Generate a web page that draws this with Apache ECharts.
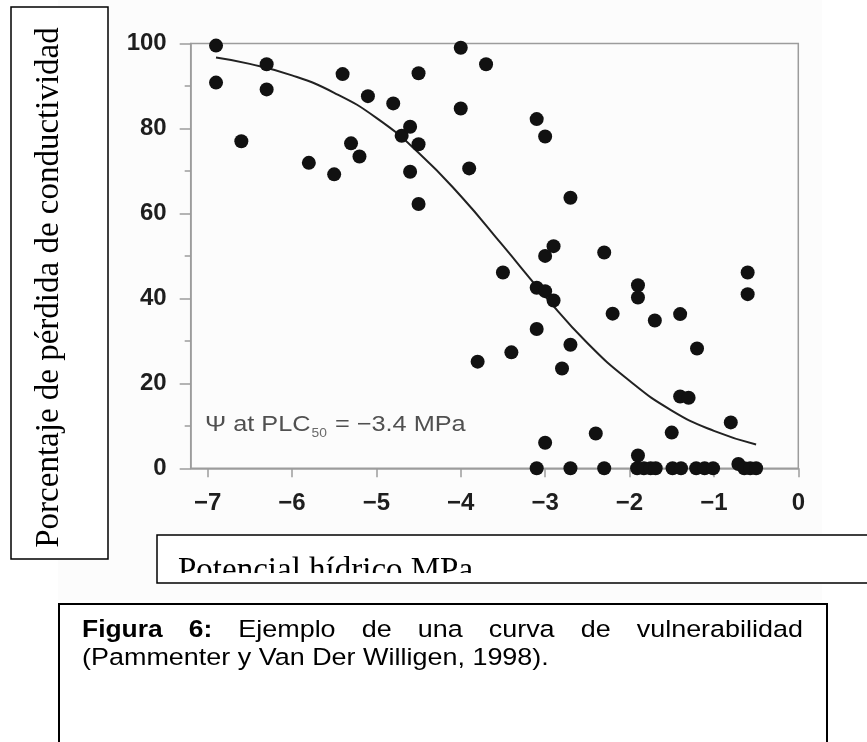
<!DOCTYPE html>
<html>
<head>
<meta charset="utf-8">
<script src="https://cdn.jsdelivr.net/npm/echarts@6/dist/echarts.min.js"></script>
<style>
  html, body { margin: 0; padding: 0; background: #fff; }
  #chart { width: 867px; height: 742px; }
</style>
</head>
<body>
<div id="chart"></div>
<script>
// Vulnerability curve: percentage loss of conductivity vs. water potential (MPa)
const psi = [
  -6.9, -6.9, -6.6, -6.3, -6.3, -5.8, -5.5, -5.4, -5.3, -5.2, -5.1,
  -4.8, -4.7, -4.6, -4.5, -4.6, -4.5, -4.5, -4.0, -4.0, -3.9, -3.7,
  -3.1, -3.0, -2.7, -2.9, -3.0, -2.3, -3.5, -3.1, -3.0, -2.9,
  -1.9, -1.9, -2.2, -1.7, -1.4, -0.6, -0.6, -3.1, -2.7, -3.4, -3.8,
  -2.8, -1.2, -1.4, -1.3, -0.8, -2.4, -1.5, -3.0, -1.9,
  -3.1, -2.7, -2.3, -1.91, -1.83, -1.75, -1.69, -1.49, -1.39,
  -1.21, -1.11, -1.01, -0.71, -0.64, -0.57, -0.5
];
const plc = [
  99.5, 90.8, 77.0, 95.1, 89.2, 71.9, 69.2, 92.8, 76.5, 73.4, 87.6,
  85.9, 78.3, 80.4, 76.3, 69.8, 93.0, 62.2, 99.0, 84.7, 70.6, 95.1,
  82.2, 78.1, 63.7, 52.3, 50.0, 50.8, 46.1, 42.5, 41.7, 39.5,
  43.1, 40.2, 36.4, 34.8, 36.3, 46.1, 41.0, 32.8, 29.1, 27.3, 25.1,
  23.5, 28.2, 16.9, 16.6, 10.8, 8.2, 8.4, 6.0, 3.0,
  0, 0, 0, 0, 0, 0, 0, 0, 0,
  0, 0, 0, 1.0, 0, 0, 0
];

// Fitted sigmoid curve, read at regular potentials
const curvePsi = [-6.9, -6.5, -6.0, -5.5, -5.0, -4.5, -4.0, -3.5, -3.0, -2.5, -2.0, -1.5, -1.0, -0.5];
const curvePlc = [96.7, 95.2, 92.5, 88.4, 82.5, 74.3, 64.1, 52.4, 40.5, 29.5, 20.6, 13.6, 8.8, 5.6];

const xTicks = [-7, -6, -5, -4, -3, -2, -1, 0];
const yTicks = [0, 20, 40, 60, 80, 100];

const yTitle = 'Porcentaje de pérdida de conductividad';
const xTitle = 'Potencial hídrico MPa';
const noteMain = 'Ψ at PLC';
const noteSub = '50';
const noteRest = ' = −3.4 MPa';
const captionBold = ['Figura', '6:'];
const captionWords = ['Ejemplo', 'de', 'una', 'curva', 'de', 'vulnerabilidad'];
const captionLine2 = '(Pammenter y Van Der Willigen, 1998).';

// text measuring helper
const mctx = document.createElement('canvas').getContext('2d');
function textWidth(text, font) { mctx.font = font; return mctx.measureText(text).width; }

const FONT_CAP_BOLD = 'bold 24px "Liberation Sans"';
const FONT_CAP = '24.5px "Liberation Sans"';
const CAP_SX = 1.1;
const FONT_NOTE = '22px "Liberation Sans"';
const FONT_NOTE_SUB = '12px "Liberation Sans"';
const NOTE_SX = 1.15;
const FONT_SERIF = '33px "Liberation Serif"';

function txt(x, y, text, font, fill, align, z, extra) {
  return Object.assign({
    type: 'text', x: x, y: y, z: z || 5,
    style: {
      text: text, font: font, fill: fill,
      align: align || 'left', verticalAlign: 'middle',
      textAlign: align || 'left', textVerticalAlign: 'middle'
    }
  }, extra || {});
}

// Justified first caption line
const capLeft = 82, capRight = 803;
const capTokens = captionBold.map(t => ({ t: t, font: FONT_CAP_BOLD }))
  .concat(captionWords.map(t => ({ t: t, font: FONT_CAP })));
const capWidths = capTokens.map(k => textWidth(k.t, k.font) * CAP_SX);
const capTotal = capWidths.reduce((a, b) => a + b, 0);
const capGap = (capRight - capLeft - capTotal) / (capTokens.length - 1);
const captionElems = [];
let cx = capLeft;
capTokens.forEach((k, i) => {
  captionElems.push(txt(cx, 639 - 0.345 * 24.5, k.t, k.font, '#000', 'left', 6, { scaleX: CAP_SX }));
  cx += capWidths[i] + capGap;
});
captionElems.push(txt(capLeft, 667 - 0.345 * 24.5, captionLine2, FONT_CAP, '#000', 'left', 6, { scaleX: CAP_SX }));

// Annotation with subscript
const noteX = 205, noteBase = 433;
const wMain = textWidth(noteMain, FONT_NOTE) * NOTE_SX;
const wSub = textWidth(noteSub, FONT_NOTE_SUB) * NOTE_SX;
const noteElems = [
  txt(noteX, noteBase - 0.345 * 22, noteMain, FONT_NOTE, '#505050', 'left', 6, { scaleX: NOTE_SX }),
  txt(noteX + wMain + 1, noteBase + 5 - 0.345 * 12, noteSub, FONT_NOTE_SUB, '#6a6a6a', 'left', 6, { scaleX: NOTE_SX }),
  txt(noteX + wMain + wSub + 2, noteBase - 0.345 * 22, noteRest, FONT_NOTE, '#505050', 'left', 6, { scaleX: NOTE_SX })
];

const axisGrey = '#9c9c9c';
const minusFmt = v => (v < 0 ? '−' + Math.abs(v) : String(v));

const chart = echarts.init(document.getElementById('chart'), null, { renderer: 'canvas' });
chart.setOption({
  animation: false,
  backgroundColor: '#ffffff',
  grid: {
    left: 190.7, right: 68.7, top: 43.5, bottom: 273.7,
    show: true, borderColor: axisGrey, borderWidth: 1.5,
    backgroundColor: 'transparent',
    containLabel: false, outerBoundsMode: 'none'
  },
  xAxis: {
    type: 'value', min: -7.2, max: 0,
    axisLine: { show: true, onZero: false, lineStyle: { color: axisGrey, width: 1.5 } },
    axisTick: { show: true, customValues: xTicks, length: 9, lineStyle: { color: axisGrey, width: 1.5 } },
    axisLabel: {
      customValues: xTicks, formatter: minusFmt, margin: 23,
      color: '#1e1e1e', fontFamily: 'Liberation Sans', fontWeight: 'bold', fontSize: 24
    },
    splitLine: { show: false }
  },
  yAxis: {
    type: 'value', min: 0, max: 100, interval: 20,
    axisLine: { show: true, onZero: false, lineStyle: { color: axisGrey, width: 1.5 } },
    axisTick: { show: true, length: 11, lineStyle: { color: axisGrey, width: 1.5 } },
    minorTick: { show: true, splitNumber: 2, length: 6, lineStyle: { color: axisGrey, width: 1.5 } },
    axisLabel: {
      customValues: yTicks, margin: 24,
      color: '#1e1e1e', fontFamily: 'Liberation Sans', fontWeight: 'bold', fontSize: 24
    },
    splitLine: { show: false },
    minorSplitLine: { show: false }
  },
  series: [
    {
      type: 'line', z: 2, smooth: true, symbol: 'none',
      data: curvePsi.map((x, i) => [x, curvePlc[i]]),
      lineStyle: { color: '#222', width: 2 }
    },
    {
      type: 'scatter', z: 3, symbol: 'circle', symbolSize: 14,
      data: psi.map((x, i) => [x, plc[i]]),
      itemStyle: { color: '#111', opacity: 1 }
    }
  ],
  graphic: {
    elements: [
      // faint backdrop of the figure
      { type: 'rect', z: -10, shape: { x: 58, y: 0, width: 764, height: 600 }, style: { fill: '#fcfcfc' }, silent: true },
      // y title box
      { type: 'rect', z: 1, shape: { x: 11, y: 7, width: 97, height: 552 }, style: { fill: '#fff', stroke: '#000', lineWidth: 1.5 } },
      txt(49, 287.5, yTitle, FONT_SERIF, '#000', 'center', 5, { rotation: Math.PI / 2 }),
      // x title box with its text cut at the inner margin
      { type: 'rect', z: 1, shape: { x: 157, y: 535, width: 760, height: 48 }, style: { fill: '#fff', stroke: '#000', lineWidth: 1.5 } },
      txt(178, 582 - 0.3375 * 33, xTitle, FONT_SERIF, '#000', 'left', 5),
      { type: 'rect', z: 7, shape: { x: 158, y: 573, width: 720, height: 9 }, style: { fill: '#fff' } },
      // caption box
      { type: 'rect', z: 1, shape: { x: 59, y: 604, width: 768, height: 200 }, style: { fill: '#fff', stroke: '#000', lineWidth: 2 } }
    ].concat(captionElems, noteElems)
  }
});
</script>
</body>
</html>
